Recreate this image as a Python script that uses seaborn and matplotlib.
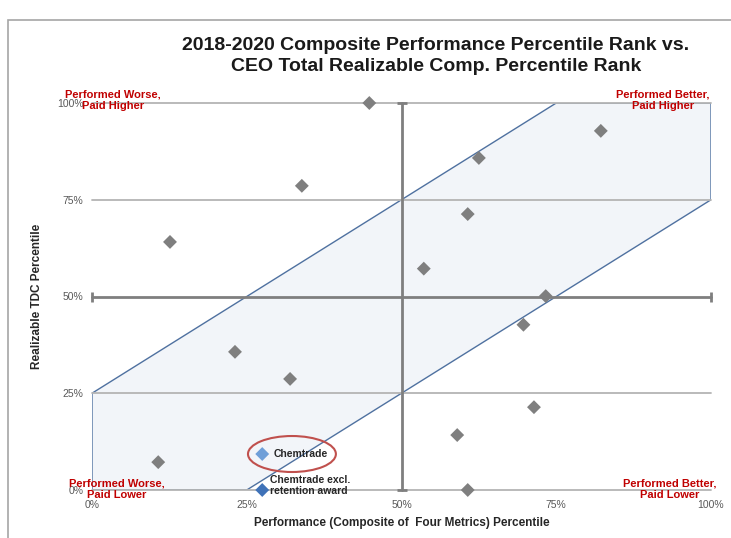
import matplotlib
matplotlib.use('Agg')
import matplotlib.pyplot as plt
import matplotlib.patches as mpatches
import pandas as pd
import seaborn as sns

# peer companies (performance percentile, realizable TDC percentile)
peer_perf = [44.8, 33.9, 12.6, 23.1, 32.0, 10.7, 62.5, 60.7, 53.6, 73.3, 69.7, 82.2, 71.4, 59.0, 60.7]
peer_pay = [100.0, 78.6, 64.1, 35.7, 28.7, 7.2, 85.8, 71.3, 57.2, 50.1, 42.7, 92.8, 21.4, 14.2, 0.0]

chem_perf = [27.5, 27.5]
chem_pay = [9.3, 0.0]
chem_labels = ['Chemtrade', 'Chemtrade excl.\nretention award']

# alignment band corners
band_x = [0, 0, 75, 100, 100, 25]
band_y = [0, 25, 100, 100, 75, 0]

ticks = [0, 25, 50, 75, 100]
tick_labels = ['0%', '25%', '50%', '75%', '100%']

sns.set_style('white')
plt.rcParams['font.family'] = ['Liberation Sans', 'DejaVu Sans']

fig = plt.figure(figsize=(7.31, 5.38), dpi=100)
ax = fig.add_axes([92 / 731, 48 / 538, 619 / 731, 387 / 538])
ax.set_xlim(0, 100)
ax.set_ylim(0, 100)
sns.despine(ax=ax, left=True, bottom=True)

# outer frame
fig.patches.append(mpatches.Rectangle((8 / 731, -0.1), 1.2, 1 - 20 / 538 + 0.1,
                                      transform=fig.transFigure, fill=False,
                                      edgecolor='#a6a6a6', lw=1.2))

# band
ax.add_patch(mpatches.Polygon(list(zip(band_x, band_y)), closed=True,
                              facecolor='#f2f5f9', edgecolor='#4f71a0', lw=1.0, zorder=1))

# grid lines
for y in [0, 25, 75, 100]:
    ax.plot([0, 100], [y, y], color='#b4b4b4', lw=1.3, zorder=2, clip_on=False)
ax.plot([0, 100], [50, 50], color='#7f7f7f', lw=2, zorder=2, clip_on=False,
        marker='|', markersize=7, markeredgewidth=2)
ax.plot([50, 50], [0, 100], color='#7f7f7f', lw=2, zorder=2, clip_on=False,
        marker='_', markersize=7, markeredgewidth=2)

peers = pd.DataFrame({'perf': peer_perf, 'pay': peer_pay})
sns.scatterplot(data=peers, x='perf', y='pay', marker='D', s=50, color='#7f7f7f',
                edgecolor='none', ax=ax, zorder=4, clip_on=False)

chem = pd.DataFrame({'perf': chem_perf, 'pay': chem_pay, 'name': chem_labels})
sns.scatterplot(data=chem, x='perf', y='pay', hue='name', palette=['#6f9fd8', '#3f72b8'],
                marker='D', s=50, edgecolor='none', ax=ax, zorder=5, clip_on=False, legend=False)

ax.text(29.3, chem_pay[0], chem_labels[0], fontsize=7.5, fontweight='bold',
        color='#262626', va='center', zorder=6)
ax.text(28.7, chem_pay[1] + 1.2, chem_labels[1], fontsize=7.5, fontweight='bold',
        color='#262626', va='center', linespacing=1.15, zorder=6)
ax.add_patch(mpatches.Ellipse((32.3, 9.3), 14.2, 9.3, fill=False, edgecolor='#c0504d',
                              lw=1.5, zorder=6))

# quadrant labels
red = '#c00000'
qkw = dict(fontsize=8, fontweight='bold', color=red, ha='center', va='center',
           linespacing=1.2, zorder=7, clip_on=False)
ax.text(3.4, 100.6, 'Performed Worse,\nPaid Higher', **qkw)
ax.text(92.2, 100.6, 'Performed Better,\nPaid Higher', **qkw)
ax.text(4.0, 0.3, 'Performed Worse,\nPaid Lower', **qkw)
ax.text(93.4, 0.3, 'Performed Better,\nPaid Lower', **qkw)

ax.set_xticks(ticks)
ax.set_xticklabels(tick_labels)
ax.set_yticks(ticks)
ax.set_yticklabels(tick_labels)
ax.tick_params(axis='both', length=0, labelsize=7.5, labelcolor='#595959')
ax.tick_params(axis='x', pad=7)
ax.tick_params(axis='y', pad=6)

ax.set_xlabel('Performance (Composite of  Four Metrics) Percentile', fontsize=8.5,
              fontweight='bold', color='#262626', labelpad=5.5)
ax.set_ylabel('Realizable TDC Percentile', fontsize=8.5, fontweight='bold',
              color='#262626', labelpad=10)

fig.text(436 / 731, 1 - 56 / 538,
         '2018-2020 Composite Performance Percentile Rank vs.\nCEO Total Realizable Comp. Percentile Rank',
         ha='center', va='center', fontsize=14, fontweight='bold', color='#1a1a1a',
         linespacing=1.35)

fig.savefig('out.png', dpi=100)
